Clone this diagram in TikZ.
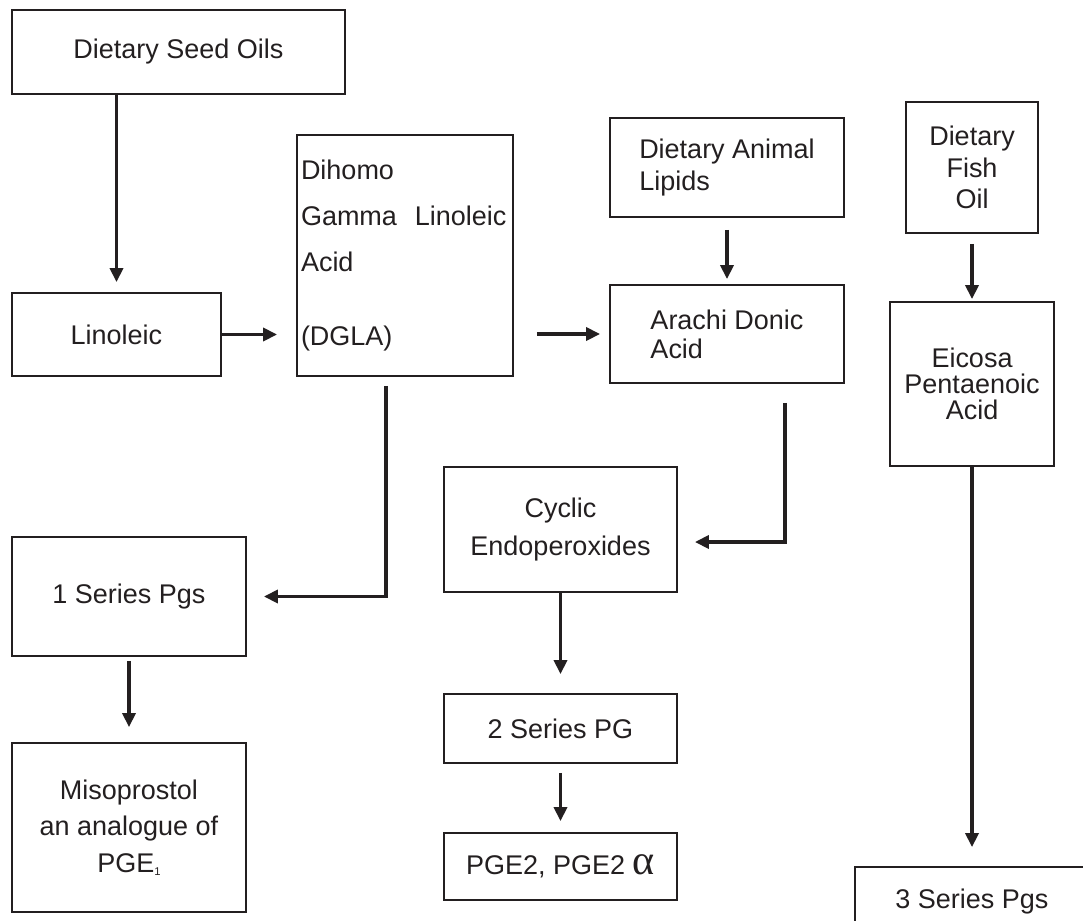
\documentclass[tikz,border=0pt]{standalone}
\usepackage{fontspec}
\setmainfont{Liberation Sans}
\newfontfamily\greekfont{Liberation Serif}
\usetikzlibrary{positioning,arrows.meta}
\definecolor{ink}{HTML}{231F20}
\tikzset{
  box/.style ={draw=ink, line width=1.4pt, align=center, inner sep=3pt,
               text=ink, font=\fontsize{19.2}{22.4}\selectfont},
  ar/.style  ={-{Triangle[length=3.5mm,width=3.3mm]}, draw=ink,
               line width=2.3pt}
}

\begin{document}
\begin{tikzpicture}
\useasboundingbox (0,0) rectangle (27.075,-23);
\clip (0,0) rectangle (27.075,-23);
% sources
\node[box, minimum width=8.325cm, minimum height=2.1cm] (seed)
  at (4.4625,-1.3) {Dietary Seed Oils};
\node[box, minimum width=5.85cm, minimum height=2.475cm, align=left]
  (animal) at (18.175,-4.1875) {Dietary Animal\\Lipids};
\node[box, minimum width=3.3cm, minimum height=3.275cm] (fish)
  at (24.3,-4.1875) {Dietary\\Fish\\Oil};
% acids
\node[box, minimum width=5.225cm, minimum height=2.075cm] (lino)
  at (2.9125,-8.3625) {Linoleic};
\node[box, text width=5.2cm, inner xsep=0.1cm, minimum height=6.025cm,
  align=left] (dgla) at (10.125,-6.3875)
  {Dihomo\\[10.6pt]Gamma\ \ Linoleic\\[10.6pt]Acid\\[30.2pt](DGLA)};
\node[box, minimum width=5.85cm, minimum height=2.45cm, align=left]
  (arachi) at (18.175,-8.35) {Arachi Donic\\[-1.8pt]Acid};
\node[box, minimum width=4.1cm, minimum height=4.1cm] (epa)
  at (24.3,-9.6) {Eicosa\\[-3.9pt]Pentaenoic\\[-3.9pt]Acid};
% products
\node[box, minimum width=5.85cm, minimum height=2.975cm] (pg1)
  at (3.225,-14.9125) {1 Series Pgs};
\node[box, minimum width=5.825cm, minimum height=3.125cm] (cyclic)
  at (14.0125,-13.2375) {Cyclic\\[4.6pt]Endoperoxides};
\node[box, minimum width=5.825cm, minimum height=1.725cm] (pg2)
  at (14.0125,-18.2125) {2 Series PG};
\node[box, minimum width=5.825cm, minimum height=1.675cm] (pge)
  at (14.0125,-21.6625)
  {PGE2, PGE2 {\greekfont\fontsize{30}{30}\selectfont α}};
\node[box, minimum width=5.85cm, minimum height=4.225cm] (miso)
  at (3.225,-20.6875)
  {Misoprostol\\[3.6pt]an analogue of\\[3.6pt]PGE\raisebox{-2pt}{\fontsize{8}{8}\selectfont 1}};
\node[box, minimum width=5.85cm, minimum height=1.725cm] (pg3)
  at (24.3,-22.5375) {3 Series Pgs};
% connectors
\draw[ar, shorten >=0.25cm] (lino.north |- seed.south) -- (lino.north);
\draw[ar, shorten >=0.475cm] (lino.east) -- (lino.east -| dgla.west);
\draw[ar, shorten <=0.575cm, shorten >=0.225cm]
  (arachi.west -| dgla.east) -- (arachi.west);
\draw[ar, shorten <=0.3cm, shorten >=0.125cm] (animal) -- (arachi);
\draw[ar, shorten <=0.25cm, shorten >=0.05cm] (fish) -- (epa);
\draw[ar, shorten <=0.225cm, shorten >=0.425cm]
  ([xshift=-0.475cm]dgla.south) |- (pg1.east);
\draw[ar, shorten <=0.475cm, shorten >=0.425cm]
  ([xshift=1.45cm]arachi.south) |- ([yshift=-0.3125cm]cyclic.east);
\draw[ar, shorten >=0.475cm] (cyclic) -- (pg2);
\draw[ar, shorten <=0.225cm, shorten >=0.275cm] (pg2) -- (pge);
\draw[ar, shorten <=0.1cm, shorten >=0.375cm] (pg1) -- (miso);
\draw[ar, shorten >=0.475cm] (epa) -- (pg3);
\end{tikzpicture}
\end{document}
